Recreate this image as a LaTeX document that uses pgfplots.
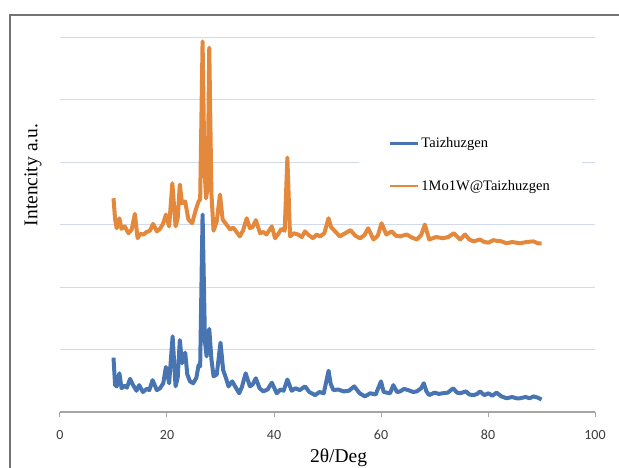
\documentclass[border=0pt]{standalone}
\usepackage{pgfplots}
\pgfplotsset{compat=1.18}
\usepackage{fontspec}
\setmainfont{Liberation Serif}
\newfontfamily\tickfont{Carlito}
\definecolor{blueL}{RGB}{72,117,178}
\definecolor{orangeL}{RGB}{228,136,60}
\definecolor{gridc}{RGB}{208,218,234}
\definecolor{axisc}{RGB}{165,165,165}
\definecolor{tickc}{RGB}{60,60,60}
\definecolor{framec}{RGB}{115,115,115}
\begin{document}
\begin{tikzpicture}[x=1pt,y=1pt]
\useasboundingbox (-60,-55) rectangle (559,412);
\draw[framec, line width=1.6pt] (-50,-70) -- (-50,397) -- (575,397);
\begin{axis}[
  at={(0,0)}, anchor=south west,
  width=535pt, height=375pt, scale only axis,
  xmin=0, xmax=100, ymin=0, ymax=6,
  axis lines*=left,
  x axis line style={-, draw=axisc, line width=1.2pt},
  y axis line style={draw=none},
  xtick={0,20,40,60,80,100},
  ytick={1,2,3,4,5,6},
  yticklabels={},
  ytick style={draw=none},
  xtick style={draw=axisc, line width=1pt},
  tick align=outside,
  major tick length=5pt,
  ymajorgrids,
  grid style={color=gridc, line width=0.9pt},
  /pgf/number format/assume math mode=true,
  xticklabel style={font=\tickfont\fontsize{14}{16}\selectfont, text=tickc, anchor=center, yshift=-18pt},
  xlabel={2θ/Deg},
  xlabel style={at={(axis description cs:0.5206,-0.1227)}, anchor=center, font=\fontsize{19.5}{22}\selectfont},
  ylabel={Intencity a.u.},
  ylabel style={at={(axis description cs:-0.0505,0.632)}, anchor=center, font=\fontsize{19.5}{22}\selectfont},
  legend style={at={(0.559,0.659)}, anchor=west, draw=none, fill=white,
    inner xsep=30pt, inner ysep=12pt, row sep=27pt,
    font=\fontsize{14.5}{17}\selectfont, cells={anchor=west}},
  legend image code/.code={\draw[#1, line width=2.2pt] (3pt,0pt) -- (31pt,0pt);},
]
\addplot[blueL, line width=4pt, line join=round] coordinates {
(10.0,0.87) (10.3,0.43) (10.6,0.41) (11.1,0.62) (11.5,0.38) (12.0,0.42) (12.5,0.39)
(13.1,0.53) (13.6,0.44) (14.3,0.34) (14.8,0.43) (15.5,0.32) (16.2,0.37) (16.7,0.35)
(17.3,0.51) (18.1,0.35) (18.7,0.38) (19.3,0.46) (19.8,0.72) (20.4,0.46) (21.05,1.21)
(21.6,0.41) (22.0,0.55) (22.4,1.15) (22.8,0.78) (23.4,0.95) (23.8,0.60) (24.3,0.49)
(24.9,0.46) (25.5,0.55) (25.9,0.75) (26.2,0.73) (26.65,3.16) (27.1,1.12) (27.4,0.89)
(27.9,1.33) (28.3,0.85) (28.7,0.57) (29.3,0.60) (30.0,1.11) (30.5,0.67) (31.0,0.55)
(31.5,0.41) (32.2,0.49) (32.8,0.40) (33.5,0.30) (34.0,0.40) (34.7,0.62) (35.5,0.41)
(36.0,0.44) (36.6,0.54) (37.3,0.38) (38.0,0.33) (38.8,0.36) (39.6,0.47) (40.5,0.30)
(41.2,0.36) (41.8,0.34) (42.5,0.52) (43.3,0.34) (44.0,0.38) (44.8,0.35) (45.8,0.41)
(46.6,0.32) (47.7,0.27) (48.5,0.32) (49.3,0.30) (50.2,0.66) (50.6,0.45) (51.1,0.35)
(52.0,0.36) (53.0,0.33) (54.0,0.34) (55.0,0.41) (56.0,0.30) (57.0,0.25) (58.0,0.30)
(59.0,0.28) (60.0,0.49) (60.5,0.32) (61.7,0.30) (62.3,0.43) (63.0,0.32) (63.6,0.33)
(64.3,0.37) (65.1,0.35) (66.0,0.32) (66.7,0.33) (67.5,0.38) (68.0,0.46) (68.5,0.33)
(69.0,0.27) (70.0,0.31) (70.8,0.29) (71.6,0.30) (72.5,0.31) (73.5,0.38) (74.2,0.31)
(74.8,0.30) (75.9,0.33) (76.5,0.28) (77.3,0.27) (78.0,0.29) (78.5,0.33) (79.3,0.27)
(80.1,0.30) (80.8,0.26) (81.6,0.31) (82.5,0.25) (83.5,0.22) (84.5,0.24) (85.3,0.22)
(86.0,0.22) (87.0,0.24) (87.8,0.22) (88.5,0.25) (89.3,0.23) (90.0,0.20)
};
\addlegendentry{Taizhuzgen}
\addplot[orangeL, line width=4pt, line join=round] coordinates {
(10.0,3.42) (10.3,3.08) (10.6,2.94) (11.1,3.10) (11.5,2.93) (12.1,2.97) (12.8,2.86)
(13.4,2.92) (14.0,3.17) (14.5,2.78) (15.0,2.85) (15.6,2.84) (16.2,2.88) (16.8,2.90)
(17.4,3.01) (18.1,2.89) (18.7,2.93) (19.3,3.02) (19.8,3.16) (20.4,2.97) (21.0,3.66)
(21.6,2.97) (22.0,3.10) (22.4,3.64) (22.8,3.34) (23.4,3.37) (24.0,3.08) (24.7,3.02)
(25.4,3.24) (25.9,3.37) (26.2,3.40) (26.65,5.93) (27.0,3.90) (27.3,3.42) (27.6,3.60)
(27.9,5.83) (28.3,3.50) (28.7,2.90) (29.3,3.05) (29.9,3.48) (30.4,3.08) (31.1,3.00)
(31.8,2.92) (32.4,2.95) (33.0,2.88) (33.6,2.81) (34.2,2.90) (34.9,3.10) (35.5,2.94)
(36.0,2.96) (36.6,3.07) (37.4,2.86) (38.0,2.88) (38.6,2.84) (39.6,2.97) (40.2,2.78)
(40.8,2.85) (41.4,2.93) (42.0,2.90) (42.5,4.07) (43.0,2.81) (43.7,2.86) (44.5,2.84)
(45.2,2.80) (45.8,2.89) (46.5,2.83) (47.3,2.78) (48.0,2.84) (48.6,2.81) (49.4,2.86)
(50.2,3.10) (50.7,2.95) (51.1,2.92) (52.3,2.81) (53.3,2.86) (54.3,2.91) (55.2,2.82)
(56.1,2.78) (56.9,2.83) (57.6,2.94) (58.6,2.76) (59.4,2.82) (60.1,3.02) (61.0,2.84)
(62.0,2.89) (62.8,2.82) (63.6,2.81) (64.8,2.84) (65.8,2.79) (66.7,2.76) (67.5,2.83)
(68.2,3.00) (69.0,2.76) (70.3,2.80) (71.6,2.78) (72.6,2.80) (73.6,2.86) (74.8,2.76)
(75.7,2.84) (76.5,2.76) (77.3,2.73) (78.5,2.76) (79.3,2.72) (80.1,2.71) (81.0,2.75)
(81.6,2.74) (82.5,2.73) (83.5,2.70) (84.5,2.72) (86.0,2.70) (87.2,2.72) (88.5,2.73)
(89.3,2.70) (90.0,2.70)
};
\addlegendentry{1Mo1W@Taizhuzgen}
\end{axis}
\end{tikzpicture}
\end{document}
